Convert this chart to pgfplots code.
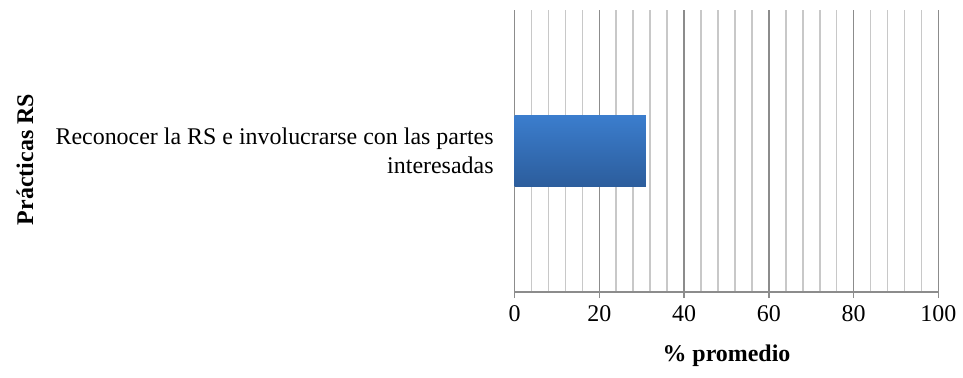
\documentclass[border=0pt]{standalone}
\usepackage{fontspec}
\setmainfont{Liberation Serif}
\usepackage{pgfplots}
\pgfplotsset{compat=1.18}
\definecolor{bartop}{HTML}{3B7DCD}
\definecolor{barbot}{HTML}{2C5D9C}
\definecolor{majg}{HTML}{8C8C8C}
\definecolor{ming}{HTML}{C8C8C8}
\begin{document}
\begin{tikzpicture}
\begin{axis}[
  name=ax,
  scale only axis,
  width=212.5pt, height=141.5pt,
  xmin=0, xmax=100, ymin=-1, ymax=1,
  axis x line*=bottom, axis y line*=left,
  y axis line style={draw=none},
  x axis line style={majg, line width=0.8pt},
  xtick={0,20,...,100},
  minor x tick num=4,
  xmajorgrids, xminorgrids,
  major grid style={majg, line width=0.8pt},
  minor grid style={ming, line width=0.8pt},
  tick align=outside,
  major tick length=3pt, minor tick length=0pt,
  x tick style={majg, line width=0.8pt},
  ytick={0},
  yticklabels={Reconocer la RS e involucrarse con las partes\\interesadas},
  y tick style={draw=none},
  yticklabel style={align=right, font=\fontsize{12}{14.5}\selectfont, xshift=-4pt},
  xticklabel style={font=\fontsize{12}{14.5}\selectfont},
  /pgf/number format/assume math mode=true,
  xlabel={\textbf{\% promedio}},
  ylabel={\textbf{Prácticas RS}},
  every axis x label/.style={at={(rel axis cs:0.5,0)}, yshift=-32pt, anchor=center, font=\fontsize{12}{14.5}\selectfont},
  every axis y label/.style={at={(rel axis cs:0,0.47)}, xshift=-245.5pt, rotate=90, anchor=center, font=\fontsize{12}{14.5}\selectfont},
]
\addplot[xbar, bar width=35.5pt, draw=none, top color=bartop, bottom color=barbot] coordinates {(31,0)};
\end{axis}
\path ([xshift=-258pt,yshift=-43pt]ax.south west) rectangle ([xshift=11pt,yshift=5pt]ax.north east);
\end{tikzpicture}
\end{document}
